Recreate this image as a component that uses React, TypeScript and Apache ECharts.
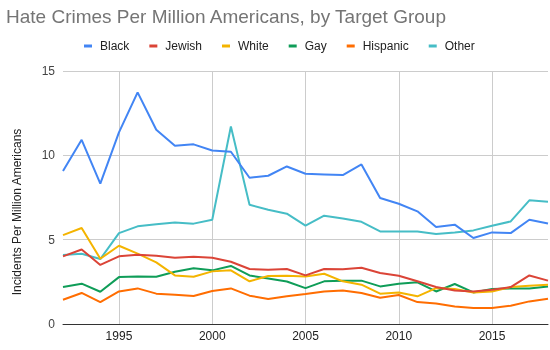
import React, { useEffect, useRef } from "react";
import * as echarts from "echarts";

const years = ["1992","1993","1994","1995","1996","1997","1998","1999","2000","2001","2002","2003","2004","2005","2006","2007","2008","2009","2010","2011","2012","2013","2014","2015","2016","2017","2018"];
const black = [9.07,10.92,8.32,11.36,13.73,11.52,10.57,10.65,10.29,10.21,8.67,8.79,9.34,8.91,8.87,8.83,9.46,7.47,7.13,6.68,5.75,5.89,5.10,5.43,5.39,6.18,5.96];
const jewish = [4.01,4.42,3.50,4.01,4.11,4.05,3.93,3.99,3.93,3.69,3.26,3.22,3.26,2.88,3.26,3.24,3.34,3.02,2.86,2.53,2.19,1.99,1.93,2.03,2.19,2.88,2.57];
const white = [5.27,5.69,3.87,4.64,4.17,3.65,2.88,2.80,3.12,3.18,2.53,2.85,2.86,2.82,2.98,2.53,2.33,1.80,1.87,1.64,2.13,2.07,1.87,1.93,2.19,2.27,2.33];
const gay = [2.19,2.39,1.91,2.78,2.82,2.80,3.10,3.30,3.18,3.44,2.88,2.70,2.52,2.13,2.53,2.57,2.57,2.23,2.39,2.47,1.93,2.37,1.87,2.07,2.11,2.11,2.23];
const hispanic = [1.44,1.84,1.30,1.93,2.11,1.80,1.74,1.66,1.96,2.11,1.68,1.48,1.65,1.78,1.93,1.99,1.84,1.56,1.72,1.30,1.22,1.04,0.95,0.95,1.08,1.34,1.50];
const other = [4.09,4.17,3.85,5.39,5.79,5.91,6.02,5.95,6.18,11.71,7.07,6.77,6.54,5.83,6.42,6.26,6.06,5.49,5.49,5.49,5.33,5.43,5.55,5.83,6.08,7.33,7.25];

const seriesNames = ["Black", "Jewish", "White", "Gay", "Hispanic", "Other"];
const seriesData = [black, jewish, white, gay, hispanic, other];
const colors = ["#4285F4", "#DB4437", "#F4B400", "#0F9D58", "#FF6D01", "#46BDC6"];

const FONT = 'Arial, "Liberation Sans", sans-serif';

export default function App() {
  const ref = useRef<HTMLDivElement>(null);
  useEffect(() => {
    if (!ref.current) return;
    const chart = echarts.init(ref.current, undefined, { renderer: "svg" });
    const isMajor = (idx: number, val: string) => Number(val) % 5 === 0;
    chart.setOption({
      animation: false,
      color: colors,
      textStyle: { fontFamily: FONT },
      title: {
        text: "Hate Crimes Per Million Americans, by Target Group",
        left: 6,
        top: 7,
        padding: 0,
        textStyle: { fontFamily: FONT, fontSize: 19, fontWeight: "normal", color: "#757575" },
      },
      legend: {
        left: 84,
        top: 40,
        padding: 0,
        icon: "rect",
        itemWidth: 8,
        itemHeight: 3,
        itemGap: 20,
        textStyle: { fontFamily: FONT, fontSize: 12, color: "#222", padding: [0, 0, 0, 3] },
        data: seriesNames,
      },
      grid: { left: 63, right: 2, top: 71, bottom: 26, containLabel: false },
      xAxis: {
        type: "category",
        data: years,
        boundaryGap: false,
        axisLine: { show: true, lineStyle: { color: "#333", width: 1 } },
        axisTick: { show: false },
        axisLabel: { interval: isMajor, color: "#222", fontSize: 12, fontFamily: FONT, margin: 6 },
        splitLine: { show: true, interval: isMajor, lineStyle: { color: "#cccccc", width: 1 } },
      },
      yAxis: {
        type: "value",
        min: 0,
        max: 15,
        interval: 5,
        axisLine: { show: false },
        axisTick: { show: false },
        axisLabel: { color: "#444", fontSize: 12, fontFamily: FONT, margin: 8 },
        splitLine: { show: true, lineStyle: { color: "#cccccc", width: 1 } },
      },
      graphic: [
        {
          type: "text",
          x: 17,
          y: 212,
          rotation: Math.PI / 2,
          style: {
            text: "Incidents Per Million Americans",
            fontFamily: FONT,
            fontSize: 12,
            fill: "#222",
            textAlign: "center",
            textVerticalAlign: "middle",
          },
        },
      ],
      series: seriesNames.map((name, i) => ({
        name,
        type: "line",
        data: seriesData[i],
        showSymbol: false,
        symbol: "none",
        lineStyle: { width: 2, color: colors[i] },
        itemStyle: { color: colors[i] },
        z: 10 - i,
      })),
    });
    return () => chart.dispose();
  }, []);
  return <div ref={ref} style={{ position: "fixed", left: 0, top: 0, width: 550, height: 350 }} />;
}
